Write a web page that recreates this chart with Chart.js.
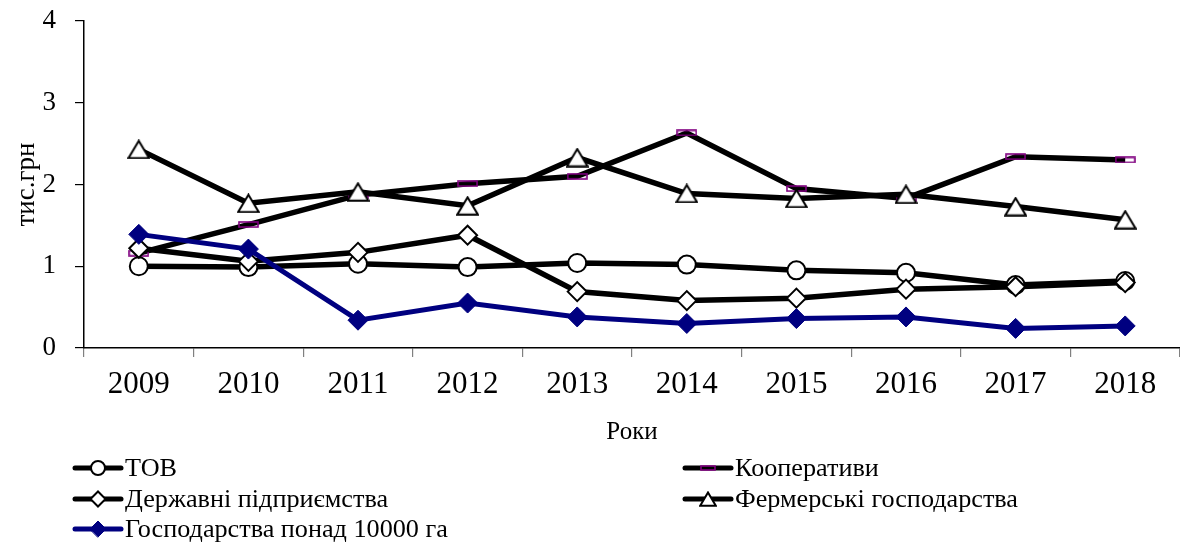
<!DOCTYPE html>
<html>
<head>
<meta charset="utf-8">
<script src="https://cdn.jsdelivr.net/npm/chart.js@4"></script>
<style>
  html, body { margin: 0; padding: 0; background: #fff; }
  #wrap { width: 1180px; height: 542px; position: relative; }
</style>
</head>
<body>
<div id="wrap"><canvas id="c" width="1180" height="542"></canvas></div>
<script>
const years = ['2009','2010','2011','2012','2013','2014','2015','2016','2017','2018'];
const seriesNames = ['ТОВ', 'Кооперативи', 'Державні підприємства', 'Фермерські господарства', 'Господарства понад 10000 га'];
const tov   = [1.00, 0.99, 1.03, 0.99, 1.04, 1.02, 0.95, 0.92, 0.77, 0.82];
const coop  = [1.16, 1.51, 1.87, 2.01, 2.10, 2.63, 1.95, 1.83, 2.34, 2.30];
const state = [1.22, 1.06, 1.17, 1.38, 0.69, 0.58, 0.61, 0.72, 0.75, 0.80];
const farm  = [2.43, 1.77, 1.91, 1.74, 2.33, 1.89, 1.83, 1.88, 1.73, 1.57];
const big   = [1.39, 1.21, 0.34, 0.55, 0.38, 0.30, 0.36, 0.38, 0.24, 0.27];
const yTicks = [0, 1, 2, 3, 4];
const yTitle = 'тис.грн';
const xTitle = 'Роки';

const FONT = '"Liberation Serif", "Times New Roman", serif';
const NAVY = '#000080';
const PURPLE = '#800080';

function rectMarker(w, h) {
  const c = document.createElement('canvas');
  c.width = w; c.height = h;
  const g = c.getContext('2d');
  g.strokeStyle = PURPLE; g.lineWidth = 1.6;
  g.strokeRect(1, 1, w - 2, h - 2);
  return c;
}
function triMarker(w, h) {
  const c = document.createElement('canvas');
  c.width = w; c.height = h;
  const g = c.getContext('2d');
  g.fillStyle = '#fff'; g.strokeStyle = '#000'; g.lineWidth = 2;
  g.lineJoin = 'miter';
  g.beginPath();
  g.moveTo(w / 2, 1.5);
  g.lineTo(w - 1.2, h - 1.2);
  g.lineTo(1.2, h - 1.2);
  g.closePath();
  g.fill(); g.stroke();
  return c;
}
const coopImg = rectMarker(21, 7);
const coopImgLeg = rectMarker(16, 6);
const triImg = triMarker(23, 20);
const triImgLeg = triMarker(18, 16);

const datasets = [
  { label: seriesNames[0], data: tov, borderColor: '#000', borderWidth: 5.5,
    pointStyle: 'circle', pointRadius: 9, pointBackgroundColor: '#fff', pointBorderColor: '#000', pointBorderWidth: 2, order: 4,
    legendStyle: 'circle', legendRadius: 7 },
  { label: seriesNames[1], data: coop, borderColor: '#000', borderWidth: 5.5,
    pointStyle: coopImg, pointRadius: 10, order: 3,
    legendStyle: coopImgLeg, legendRadius: 7 },
  { label: seriesNames[2], data: state, borderColor: '#000', borderWidth: 5.5,
    pointStyle: 'rectRot', pointRadius: 9.5, pointBackgroundColor: '#fff', pointBorderColor: '#000', pointBorderWidth: 2, order: 2,
    legendStyle: 'rectRot', legendRadius: 7.5 },
  { label: seriesNames[3], data: farm, borderColor: '#000', borderWidth: 5.5,
    pointStyle: triImg, pointRadius: 11, order: 1,
    legendStyle: triImgLeg, legendRadius: 8 },
  { label: seriesNames[4], data: big, borderColor: NAVY, borderWidth: 5,
    pointStyle: 'rectRot', pointRadius: 10, pointBackgroundColor: NAVY, pointBorderColor: NAVY, pointBorderWidth: 1, order: 0,
    legendStyle: 'rectRot', legendRadius: 8 }
];
datasets.forEach(d => { d.fill = false; d.tension = 0; d.pointHoverRadius = d.pointRadius; d.clip = false; });

const legendPlugin = {
  id: 'gridLegend',
  afterDraw(chart) {
    const ctx = chart.ctx;
    const cols = [73, 683];
    const rows = [468, 499, 529];
    ctx.save();
    chart.data.datasets.forEach((ds, i) => {
      const x0 = cols[i % 2];
      const y = rows[Math.floor(i / 2)];
      ctx.strokeStyle = ds.borderColor;
      ctx.lineWidth = 5;
      ctx.lineCap = 'round';
      ctx.beginPath();
      ctx.moveTo(x0 + 2, y); ctx.lineTo(x0 + 48, y);
      ctx.stroke();
      ctx.lineWidth = ds.pointBorderWidth || 1.5;
      ctx.strokeStyle = ds.pointBorderColor || '#000';
      ctx.fillStyle = ds.pointBackgroundColor || '#fff';
      Chart.helpers.drawPoint(ctx, { pointStyle: ds.legendStyle, radius: ds.legendRadius, borderWidth: ds.pointBorderWidth || 1.5, rotation: 0 }, x0 + 25, y);
      ctx.fillStyle = '#000';
      ctx.font = '26.2px ' + FONT;
      ctx.textBaseline = 'middle';
      ctx.textAlign = 'left';
      ctx.fillText(ds.label, x0 + 52, y + 1);
    });
    ctx.restore();
  }
};

new Chart(document.getElementById('c'), {
  type: 'line',
  data: { labels: years, datasets },
  plugins: [legendPlugin],
  options: {
    responsive: false,
    animation: false,
    events: [],
    layout: { autoPadding: false, padding: { top: 21, right: 0, bottom: 90, left: 0 } },
    plugins: { legend: { display: false }, tooltip: { enabled: false } },
    scales: {
      x: {
        type: 'category',
        offset: true,
        grid: { display: true, offset: true, drawOnChartArea: false, drawTicks: true, tickLength: 9, color: '#808080', lineWidth: 1.2 },
        border: { display: true, color: '#000', width: 1.5 },
        ticks: { color: '#000', font: { family: FONT, size: 31 }, padding: 9, maxRotation: 0, autoSkip: false },
        title: { display: true, text: xTitle, color: '#000', font: { family: FONT, size: 25 }, padding: { top: 0, bottom: 5 } },
        afterFit(scale) { scale.height = 104; scale.paddingLeft = 0; scale.paddingRight = 0; }
      },
      y: {
        min: 0, max: 4,
        afterBuildTicks(scale) { scale.ticks = yTicks.map(v => ({ value: v })); },
        grid: { display: true, drawOnChartArea: false, drawTicks: true, tickLength: 9, color: '#000', lineWidth: 1.2 },
        border: { display: true, color: '#000', width: 1.5 },
        ticks: { color: '#000', font: { family: FONT, size: 27 }, padding: 19 },
        title: { display: true, text: yTitle, color: '#000', font: { family: FONT, size: 27 }, padding: { top: 11, bottom: 0 } },
        afterFit(scale) { scale.width = 84; scale.paddingTop = 0; scale.paddingBottom = 0; }
      }
    }
  }
});
</script>
</body>
</html>
